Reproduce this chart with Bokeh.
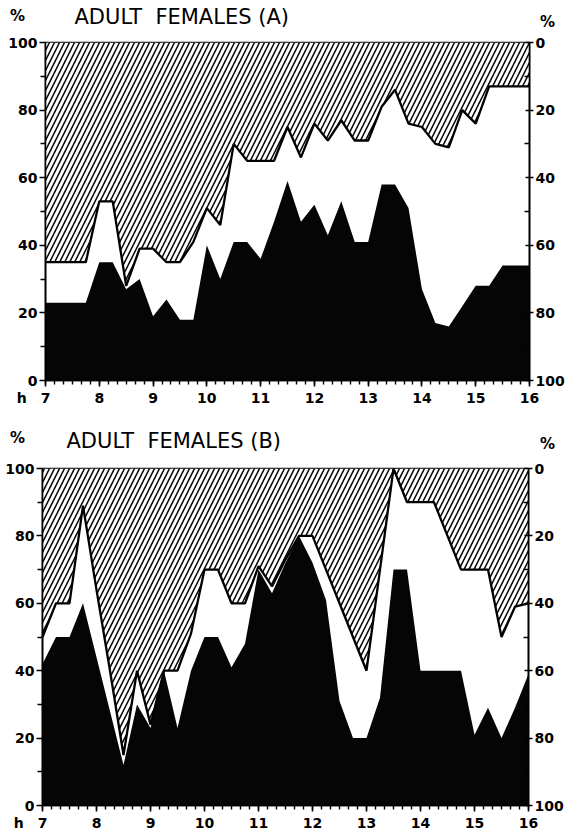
from bokeh.plotting import figure
from bokeh.models import FixedTicker, LinearAxis, Range1d
from bokeh.core.properties import value
from bokeh.layouts import column
from bokeh.embed import file_html
from bokeh.resources import INLINE

# time of day in hours, 15-minute steps from 7:00 to 16:00
hours = [7 + 0.25 * i for i in range(37)]

# Panel A: black (speckled) series top, and lower edge of hatched series
a_black = [23, 23, 23, 23, 35, 35, 27, 30, 19, 24, 18, 18, 40, 30, 41, 41, 36, 47, 59, 47,
           52, 43, 53, 41, 41, 58, 58, 51, 27, 17, 16, 22, 28, 28, 34, 34, 34]
a_upper = [35, 35, 35, 35, 53, 53, 28, 39, 39, 35, 35, 41, 51, 46, 70, 65, 65, 65, 75, 66,
           76, 71, 77, 71, 71, 81, 86, 76, 75, 70, 69, 80, 76, 87, 87, 87, 87]

# Panel B
b_black = [42, 50, 50, 60, 44, 28, 12, 30, 23, 40, 23, 40, 50, 50, 41, 48, 70, 63, 72, 80,
           72, 61, 31, 20, 20, 32, 70, 70, 40, 40, 40, 40, 21, 29, 20, 29, 39]
b_upper = [50, 60, 60, 89, 64, 40, 15, 40, 24, 40, 40, 51, 70, 70, 60, 60, 71, 65, 73, 80,
           80, 70, 60, 50, 40, 70, 100, 90, 90, 90, 80, 70, 70, 70, 50, 59, 60]

x_ticks = [7, 8, 9, 10, 11, 12, 13, 14, 15, 16]
x_labels = {7: "h\u2002\u20027\u2002\u2002\u2002\u2009"}
x_minor = [7 + k / 6 for k in range(55)]
y_ticks = [0, 20, 40, 60, 80, 100]
y_minor = [10, 30, 50, 70, 90]
right_labels = {0: "100", 20: "80", 40: "60", 60: "40", 80: "20", 100: "0"}

FONT = "DejaVu Sans"
W = 567


def header(height, items):
    h = figure(width=W, height=height, x_range=Range1d(0, W), y_range=Range1d(height, 0),
               output_backend="svg", toolbar_location=None, min_border=0,
               x_axis_type=None, y_axis_type=None, frame_align=False)
    h.grid.visible = False
    h.outline_line_color = None
    for text, x, y, size, align, style in items:
        h.text(x=[x], y=[y], text=[text], text_font=value(FONT), text_font_size=value(size),
               text_align=align, text_baseline="middle", text_font_style=style,
               text_color="black")
    return h


def make_panel(black, upper, height, top, bottom, left, right):
    p = figure(width=W, height=height, x_range=Range1d(7, 16), y_range=Range1d(0, 100),
               output_backend="svg", toolbar_location=None, frame_align=False,
               min_border_left=left, min_border_right=right,
               min_border_top=top, min_border_bottom=bottom)
    p.grid.visible = False
    p.outline_line_color = "black"
    p.outline_line_width = 1.6

    p.varea(x=hours, y1=0, y2=black, fill_color="#050505")
    p.varea(x=hours, y1=upper, y2=100, fill_color="white",
            hatch_pattern="/", hatch_color="black", hatch_scale=10, hatch_weight=1.5)
    p.line(hours, upper, line_color="black", line_width=2.3)

    xa = p.xaxis[0]
    xa.ticker = FixedTicker(ticks=x_ticks, minor_ticks=x_minor)
    xa.major_label_overrides = x_labels
    xa.major_tick_out = 6
    xa.major_tick_in = 0
    xa.minor_tick_out = 4
    xa.minor_tick_in = 0
    xa.major_label_standoff = 3

    ya = p.yaxis[0]
    ya.ticker = FixedTicker(ticks=y_ticks, minor_ticks=y_minor)
    ya.major_tick_out = 6
    ya.major_tick_in = 0
    ya.minor_tick_out = 5
    ya.minor_tick_in = 0
    ya.major_label_standoff = 2

    ra = LinearAxis(ticker=FixedTicker(ticks=y_ticks, minor_ticks=y_minor),
                    major_label_overrides=right_labels)
    ra.major_tick_out = 4
    ra.major_tick_in = 4
    ra.minor_tick_out = 0
    ra.minor_tick_in = 5
    ra.major_label_standoff = 2
    p.add_layout(ra, "right")

    for ax in (xa, ya, ra):
        ax.major_label_text_font = FONT
        ax.major_label_text_font_size = "14px"
        ax.major_label_text_font_style = "bold"
        ax.major_label_text_color = "black"
        ax.axis_line_color = "black"
        ax.axis_line_width = 1.6
        ax.major_tick_line_color = "black"
        ax.major_tick_line_width = 1.6
        ax.minor_tick_line_color = "black"
        ax.minor_tick_line_width = 1.4
    return p


head_a = header(34, [("ADULT\u00a0\u00a0FEMALES (A)", 74, 16, "21px", "left", "normal"),
                     ("%", 17, 15, "15px", "center", "bold"),
                     ("%", 547, 21, "15px", "center", "bold")])
pa = make_panel(a_black, a_upper, 386, 8, 40, 45, 36)
head_b = header(40, [("ADULT\u00a0\u00a0FEMALES (B)", 66, 20, "21px", "left", "normal"),
                     ("%", 17, 17, "15px", "center", "bold"),
                     ("%", 547, 23, "15px", "center", "bold")])
pb = make_panel(b_black, b_upper, 374, 8, 29, 42, 39)

layout = column(head_a, pa, head_b, pb, spacing=0)
open("out.html", "w").write(file_html(layout, INLINE))
